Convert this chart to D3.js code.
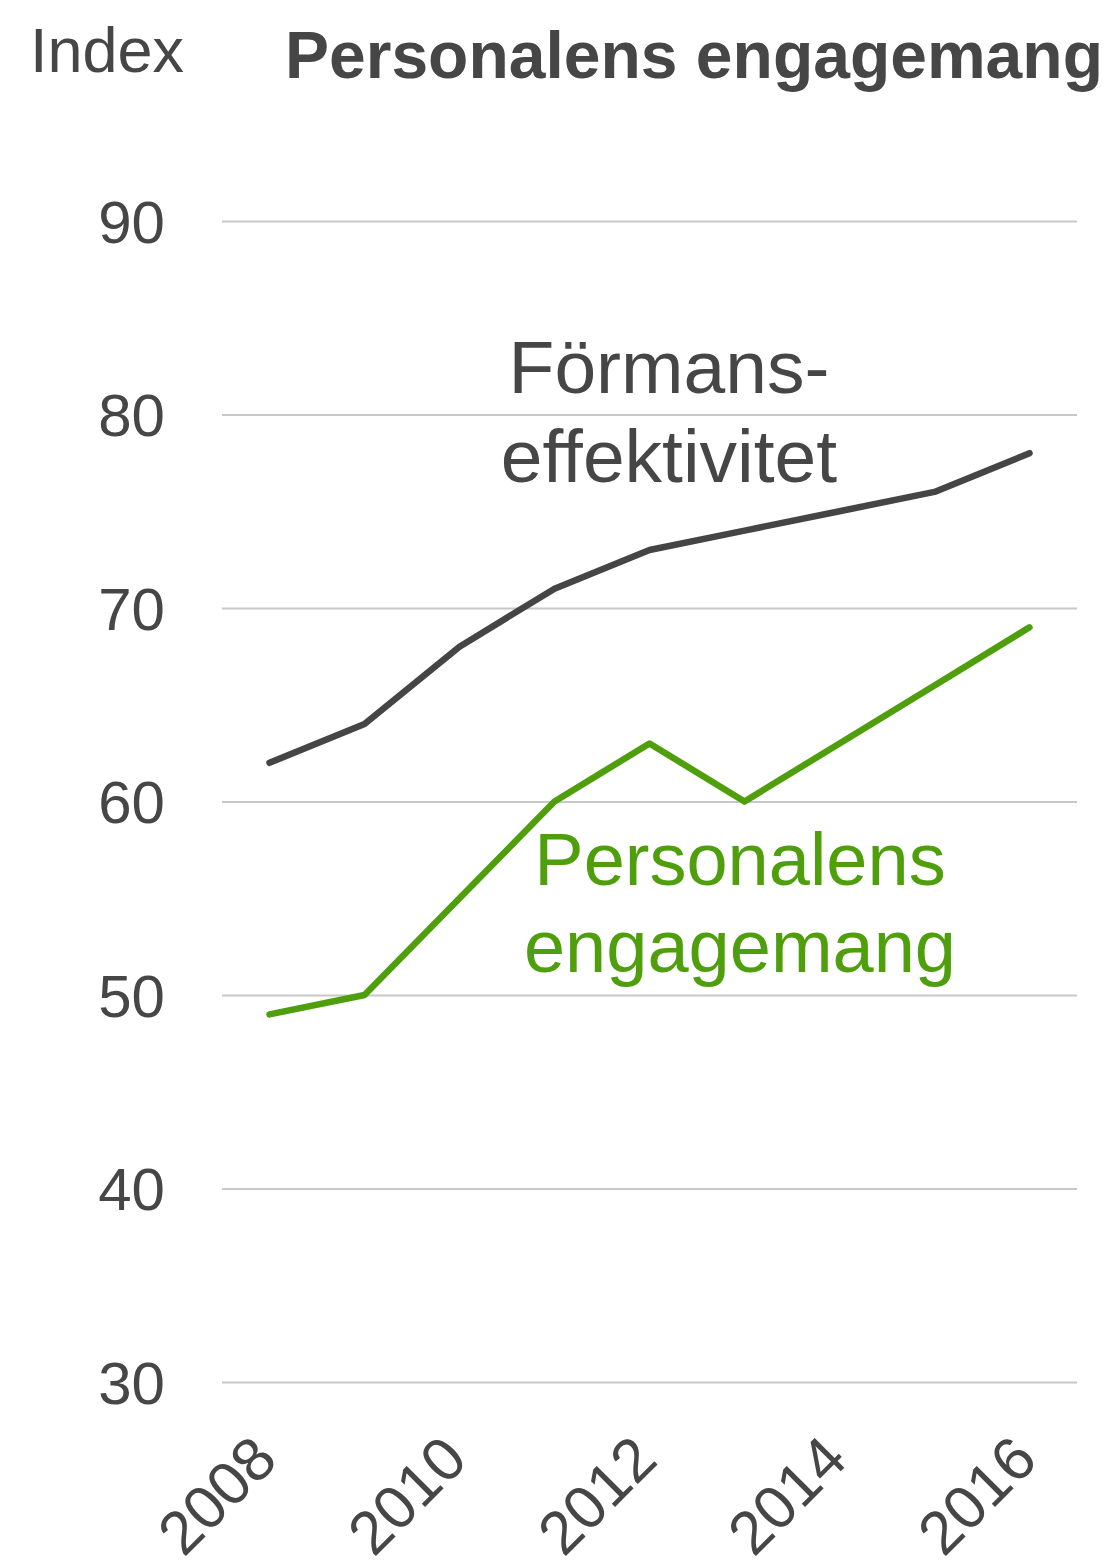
<!DOCTYPE html>
<html>
<head>
<meta charset="utf-8">
<title>Personalens engagemang</title>
<script src="https://d3js.org/d3.v7.min.js"></script>
<style>
  body { margin: 0; background: #fff; }
  text { font-family: "Liberation Sans", Arial, sans-serif; }
</style>
</head>
<body>
<svg width="1112" height="1560"></svg>
<script>
var years = [2008, 2009, 2010, 2011, 2012, 2013, 2014, 2015, 2016]
var formansEffektivitet = [62, 64, 68, 71, 73, 74, 75, 76, 78]
var personalensEngagemang = [49, 50, 55, 60, 63, 60, 63, 66, 69]
var yTicks = [30, 40, 50, 60, 70, 80, 90]
var xTicks = [2008, 2010, 2012, 2014, 2016]

var svg = d3.select("svg")

var x = d3.scaleBand().domain(years).range([222, 1077]).padding(0)
var y = d3.scaleLinear().domain([30, 90]).range([1382, 221])
var xc = function(d) { return x(d) + x.bandwidth() / 2 }

// grid
svg.append("g")
  .attr("transform", "translate(222,0)")
  .call(d3.axisLeft(y).tickValues(yTicks).tickSize(-(1077 - 222)).tickPadding(0))
  .call(function(g) {
    g.select(".domain").remove()
    g.selectAll(".tick line").attr("stroke", "#c8c8c8").attr("stroke-width", 2)
    g.selectAll(".tick text")
      .attr("x", -57)
      .attr("dy", "0.35em")
      .attr("fill", "#464646")
      .style("font-size", "60px")
      .style("font-family", "'Liberation Sans', Arial, sans-serif")
  })

// x axis labels
svg.append("g")
  .attr("transform", "translate(0,1382)")
  .call(d3.axisBottom(x).tickValues(xTicks).tickSize(0))
  .call(function(g) {
    g.select(".domain").remove()
    g.selectAll(".tick text")
      .attr("text-anchor", "end")
      .attr("fill", "#464646")
      .style("font-size", "61px")
      .style("font-family", "'Liberation Sans', Arial, sans-serif")
      .attr("transform", "translate(-20,50) rotate(-45)")
      .attr("y", 0)
      .attr("dy", "0.7em")
  })

var line = d3.line()
  .x(function(d, i) { return xc(years[i]) })
  .y(function(d) { return y(d) })

svg.append("path")
  .datum(formansEffektivitet)
  .attr("fill", "none")
  .attr("stroke", "#454545")
  .attr("stroke-width", 6.5)
  .attr("stroke-linecap", "round")
  .attr("stroke-linejoin", "round")
  .attr("d", line)

svg.append("path")
  .datum(personalensEngagemang)
  .attr("fill", "none")
  .attr("stroke", "#4e9f0b")
  .attr("stroke-width", 6.5)
  .attr("stroke-linecap", "round")
  .attr("stroke-linejoin", "round")
  .attr("d", line)

// titles
svg.append("text")
  .attr("x", 30).attr("y", 72)
  .attr("fill", "#464646")
  .style("font-size", "63px")
  .text("Index")

svg.append("text")
  .attr("x", 285).attr("y", 78)
  .attr("fill", "#464646")
  .style("font-size", "66px")
  .style("font-weight", "bold")
  .text("Personalens engagemang")

// series labels
var lab1 = svg.append("text")
  .attr("text-anchor", "middle")
  .attr("fill", "#464646")
  .style("font-size", "75px")
lab1.append("tspan").attr("x", 669).attr("y", 393).text("Förmans-")
lab1.append("tspan").attr("x", 669).attr("y", 482).text("effektivitet")

var lab2 = svg.append("text")
  .attr("text-anchor", "middle")
  .attr("fill", "#4e9f0b")
  .style("font-size", "74px")
lab2.append("tspan").attr("x", 740).attr("y", 885).text("Personalens")
lab2.append("tspan").attr("x", 740).attr("y", 972).text("engagemang")
</script>
</body>
</html>
